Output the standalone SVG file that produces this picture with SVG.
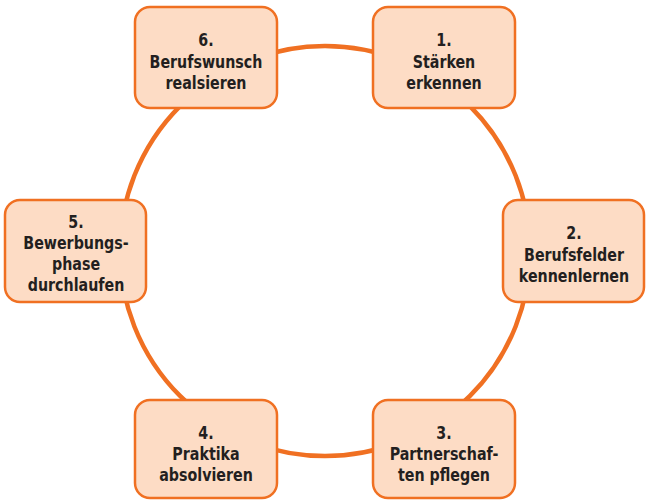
<svg xmlns="http://www.w3.org/2000/svg" width="646" height="502" viewBox="0 0 646 502">
<style>
.box{fill:#fddcc5;stroke:#f07022;stroke-width:2.5}
.t{font-family:"DejaVu Sans Condensed","Liberation Sans",sans-serif;font-stretch:condensed;font-weight:bold;font-size:18px;fill:#231f20;text-anchor:middle}
.ring{fill:none;stroke:#f07022;stroke-width:4.5}
</style>
<rect width="646" height="502" fill="#ffffff"/>
<g id="connectors"><circle class="ring" cx="325" cy="251" r="205"/></g>
<g id="n6"><rect class="box" x="135" y="7" width="142" height="101" rx="15"/>
<g transform="translate(206,0) scale(0.88,1)"><text class="t" x="0" y="46">6.</text><text class="t" x="0" y="68">Berufswunsch</text><text class="t" x="0" y="89">realsieren</text></g></g>
<g id="n1"><rect class="box" x="373" y="7" width="142" height="101" rx="15"/>
<g transform="translate(444,0) scale(0.88,1)"><text class="t" x="0" y="46">1.</text><text class="t" x="0" y="68">Stärken</text><text class="t" x="0" y="89">erkennen</text></g></g>
<g id="n2"><rect class="box" x="503" y="200" width="141" height="102" rx="15"/>
<g transform="translate(574,0) scale(0.88,1)"><text class="t" x="0" y="239">2.</text><text class="t" x="0" y="261">Berufsfelder</text><text class="t" x="0" y="282">kennenlernen</text></g></g>
<g id="n5"><rect class="box" x="5" y="200" width="141" height="102" rx="15"/>
<g transform="translate(76,0) scale(0.88,1)"><text class="t" x="0" y="228">5.</text><text class="t" x="0" y="249">Bewerbungs-</text><text class="t" x="0" y="270">phase</text><text class="t" x="0" y="291">durchlaufen</text></g></g>
<g id="n4"><rect class="box" x="135" y="400" width="142" height="98" rx="15"/>
<g transform="translate(206,0) scale(0.88,1)"><text class="t" x="0" y="439">4.</text><text class="t" x="0" y="460">Praktika</text><text class="t" x="0" y="481">absolvieren</text></g></g>
<g id="n3"><rect class="box" x="373" y="400" width="142" height="98" rx="15"/>
<g transform="translate(444,0) scale(0.88,1)"><text class="t" x="0" y="439">3.</text><text class="t" x="0" y="460">Partnerschaf-</text><text class="t" x="0" y="481">ten pflegen</text></g></g>
</svg>
